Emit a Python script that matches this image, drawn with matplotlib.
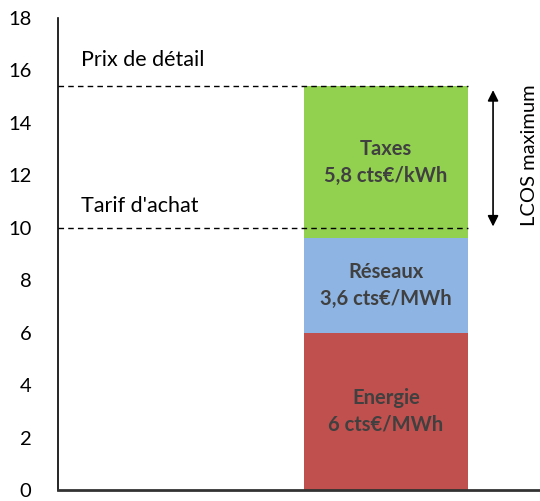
import matplotlib
matplotlib.use('Agg')
import matplotlib.pyplot as plt

plt.rcParams['font.family'] = ['Lato', 'DejaVu Sans']

# composantes du prix de l'électricité (cts€/kWh)
composantes = ['Energie', 'Réseaux', 'Taxes']
valeurs = [6.0, 3.6, 5.8]
etiquettes = ['Energie\n6 cts€/MWh', 'Réseaux\n3,6 cts€/MWh', 'Taxes\n5,8 cts€/kWh']
couleurs = ['#C0504D', '#8DB4E2', '#92D050']

prix_detail = 15.4
tarif_achat = 10.0
yticks = [0, 2, 4, 6, 8, 10, 12, 14, 16, 18]

fig = plt.figure(figsize=(5.4, 5.01), dpi=100)
ax = fig.add_axes([0.1074, 0.022, 0.8926, 0.942])

larg = 0.8
bas = 0
for val, lbl, c in zip(valeurs, etiquettes, couleurs):
    ax.bar(0, val, width=larg, bottom=bas, color=c, edgecolor='none')
    ax.text(0, bas + val / 2, lbl, ha='center', va='center', fontsize=14.5,
            fontweight='bold', color='#404040', linespacing=1.45)
    bas += val

x0 = -1.6
ax.set_xlim(x0, 0.751)
ax.set_ylim(0, 18)

ax.plot([x0, larg / 2], [prix_detail, prix_detail], ls=(0, (4, 3)), color='black', lw=1)
ax.plot([x0, larg / 2], [tarif_achat, tarif_achat], ls=(0, (4, 3)), color='black', lw=1)
ax.text(-1.49, 16.4, 'Prix de détail', fontsize=15.5, va='center', ha='left')
ax.text(-1.49, 10.85, "Tarif d'achat", fontsize=15.5, va='center', ha='left')

ax.annotate('', xy=(0.522, prix_detail - 0.15), xytext=(0.522, tarif_achat + 0.05),
            arrowprops=dict(arrowstyle='<|-|>', color='black', lw=1.2,
                            mutation_scale=16, shrinkA=0, shrinkB=0))
ax.text(0.70, 12.75, 'LCOS maximum', rotation=90, ha='center', va='center', fontsize=14.5)

ax.set_xticks([])
ax.set_yticks(yticks)
ax.tick_params(axis='y', length=0, pad=19, labelsize=14.5)
for s in ['top', 'right']:
    ax.spines[s].set_visible(False)
ax.spines['left'].set_linewidth(1.2)
ax.spines['bottom'].set_linewidth(2)
ax.spines['bottom'].set_color('#333333')

fig.savefig('out.png', dpi=100)
